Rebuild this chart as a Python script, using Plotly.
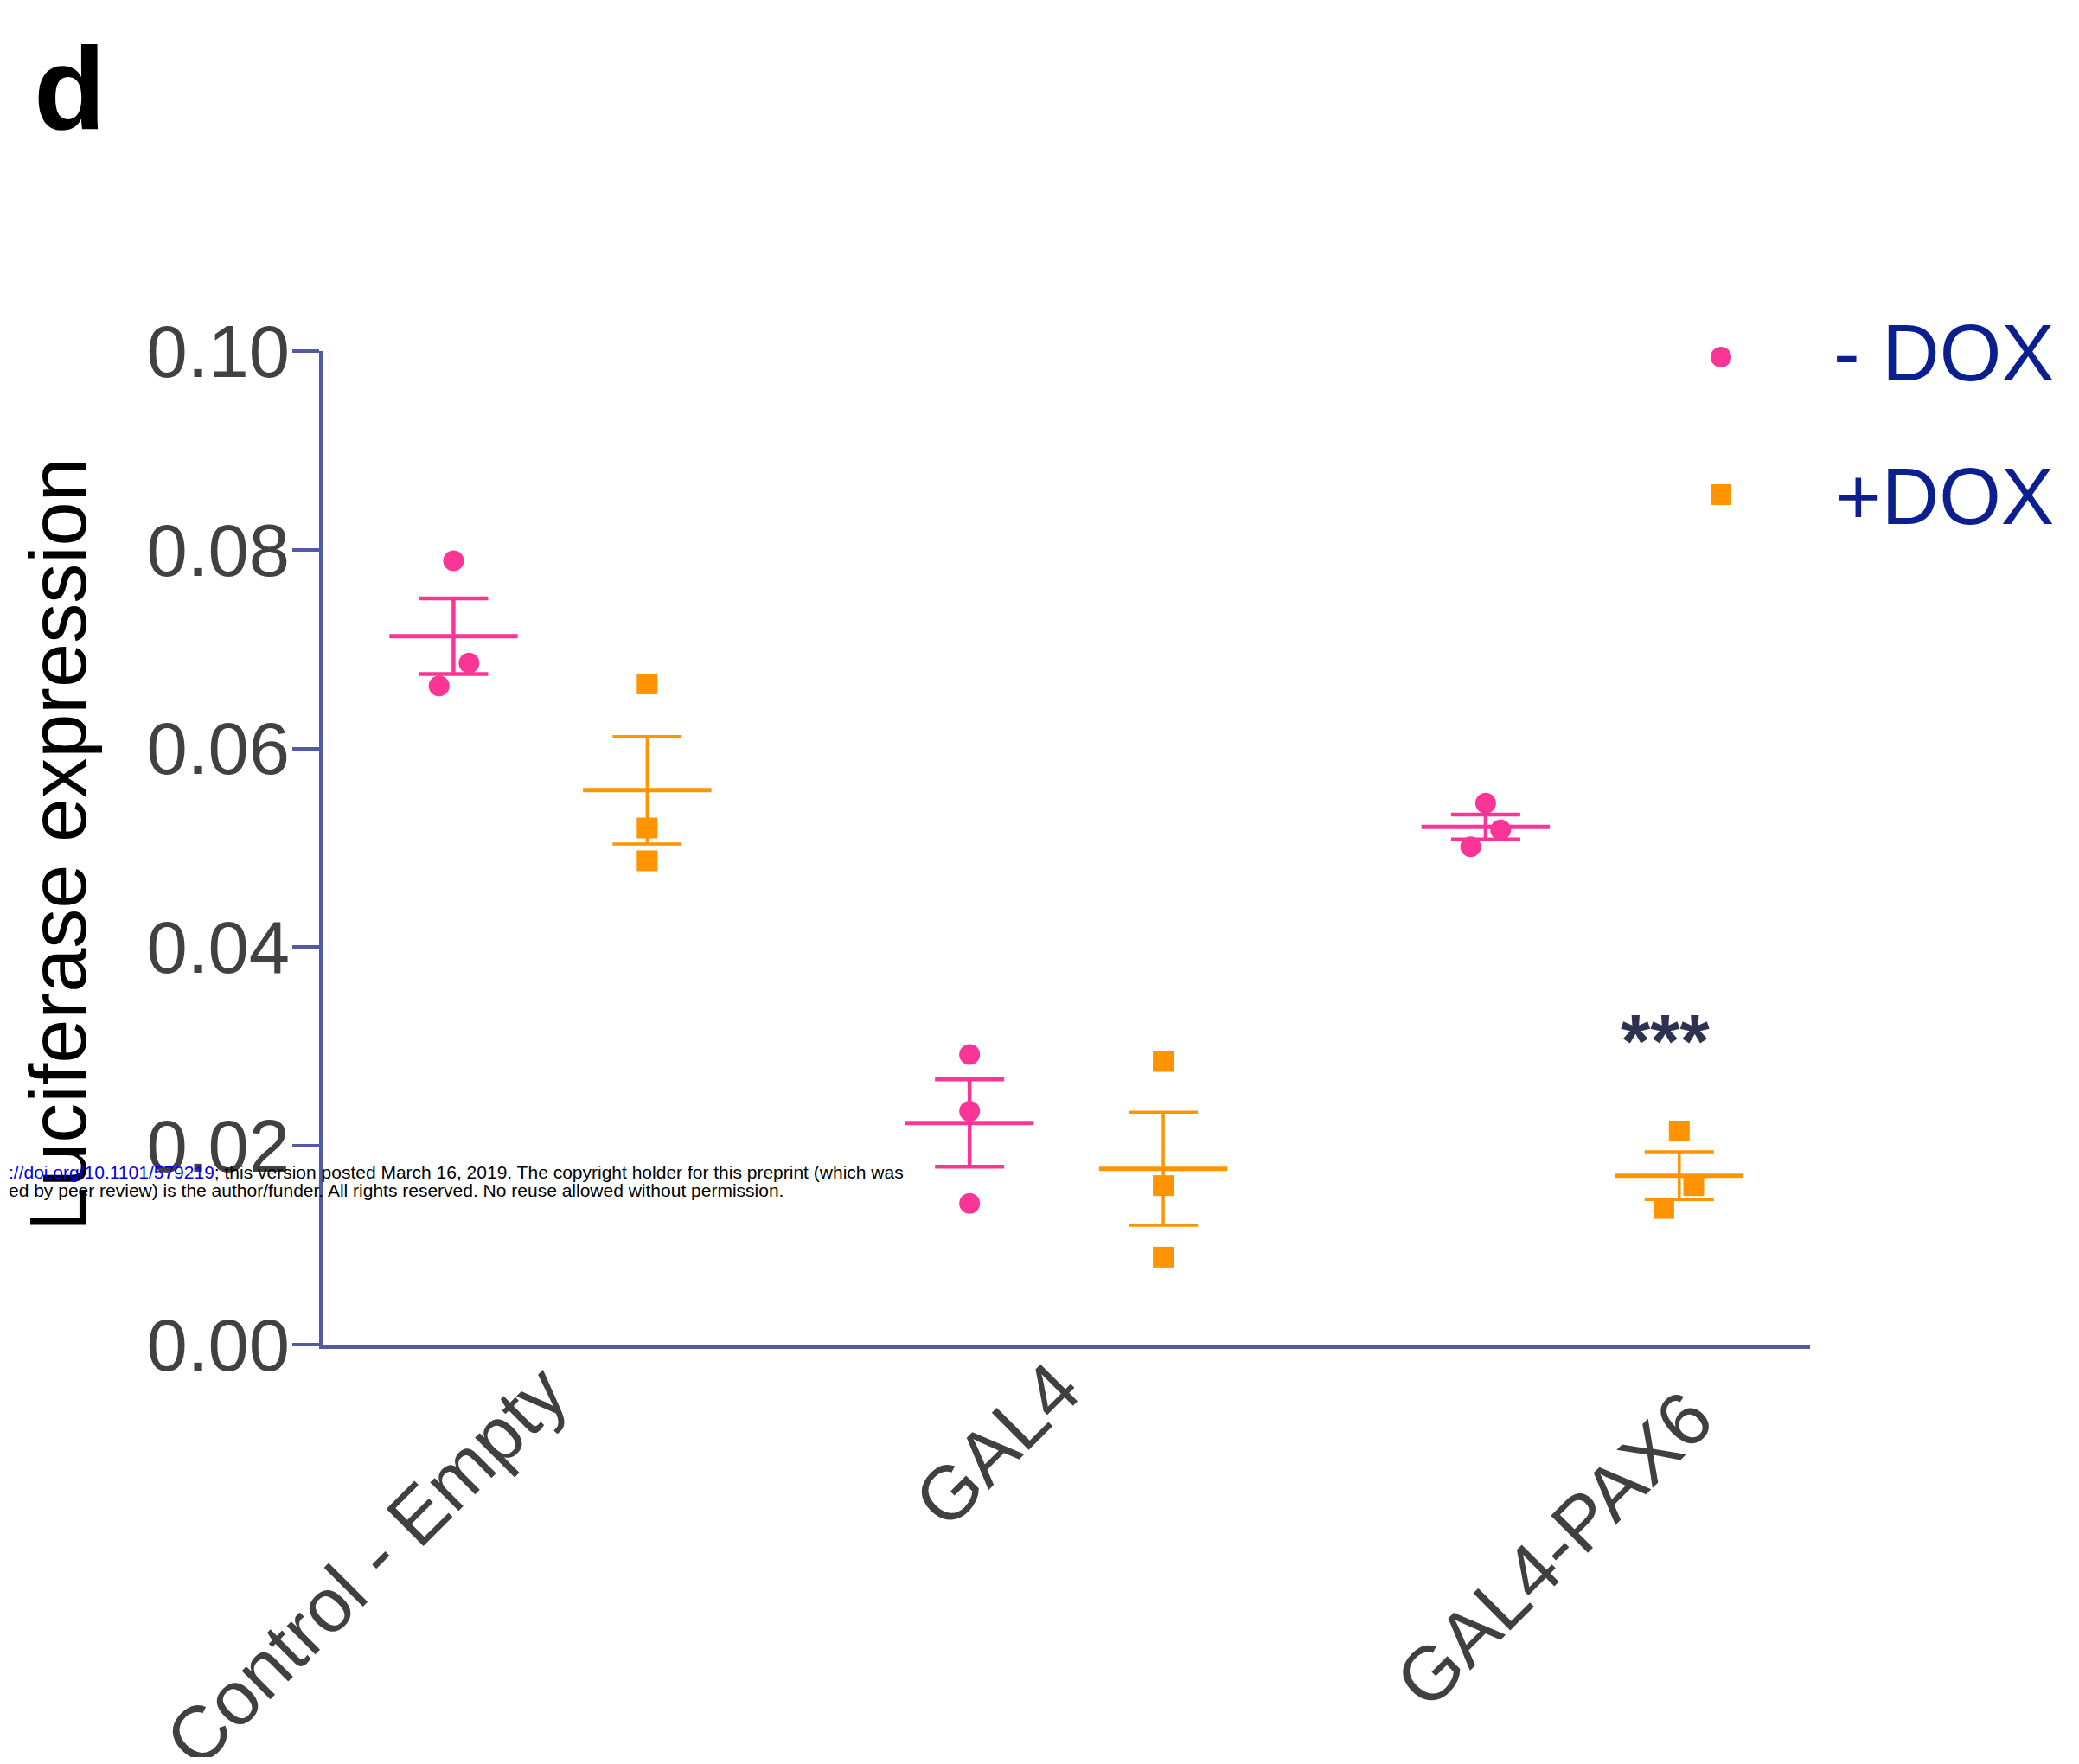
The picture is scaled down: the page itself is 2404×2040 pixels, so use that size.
import plotly.graph_objects as go

# ---------------- data ----------------
categories = ["Control - Empty", "GAL4", "GAL4-PAX6"]
series_names = ["- DOX", "+DOX"]

minus_dox_points = [[0.0789, 0.0686, 0.0663],
                    [0.0292, 0.0235, 0.0142],
                    [0.0545, 0.0518, 0.0501]]
plus_dox_points = [[0.0665, 0.0520, 0.0487],
                   [0.0285, 0.0160, 0.0088],
                   [0.0215, 0.0160, 0.0137]]

minus_dox_mean = [0.0713, 0.0223, 0.0521]
minus_dox_sem = [0.0038, 0.0044, 0.00125]
plus_dox_mean = [0.0558, 0.0177, 0.0170]
plus_dox_sem = [0.0054, 0.0057, 0.0024]

y_tick_vals = [0.00, 0.02, 0.04, 0.06, 0.08, 0.10]
y_tick_text = ["0.00", "0.02", "0.04", "0.06", "0.08", "0.10"]

significance = "***"

# ---------------- layout constants ----------------
PAGE_MARGIN = 8          # default browser body margin
W, H = 2404 - 2 * PAGE_MARGIN, 2040 - 2 * PAGE_MARGIN
PINK = "#fb3596"
ORANGE = "#ff9300"
AXIS = "#525aa6"
FONT = "Arial, Liberation Sans, sans-serif"
GROUP_OFFSET = 0.1876
JITTER_MINUS = [[0, 0.030, -0.028], [0, 0, 0], [0, 0.029, -0.029]]
JITTER_PLUS = [[0, 0, 0], [0, 0, 0], [0, 0.028, -0.030]]


def px(x):
    """page pixel x -> paper fraction"""
    return (x - PAGE_MARGIN) / W


def py(y):
    """page pixel y -> paper fraction"""
    return 1 - (y - PAGE_MARGIN) / H


fig = go.Figure()


def add_series(points, means, sems, jitter, offset, color, symbol, stem_w):
    xs_mean = [i + offset for i in range(len(categories))]
    fig.add_trace(go.Scatter(
        x=xs_mean, y=means, mode="markers",
        marker=dict(symbol="line-ew", size=106, color=color,
                    line=dict(color=color, width=5)),
        error_y=dict(type="data", array=sems, visible=True, color=color,
                     thickness=stem_w, width=40),
        showlegend=False, cliponaxis=False, hoverinfo="skip"))
    xs, ys = [], []
    for i, grp in enumerate(points):
        for j, v in enumerate(grp):
            xs.append(i + offset + jitter[i][j])
            ys.append(v)
    fig.add_trace(go.Scatter(
        x=xs, y=ys, mode="markers",
        marker=dict(symbol=symbol, size=24, color=color, line=dict(width=0)),
        showlegend=False, cliponaxis=False))


add_series(minus_dox_points, minus_dox_mean, minus_dox_sem, JITTER_MINUS,
           -GROUP_OFFSET, PINK, "circle", 4.5)
add_series(plus_dox_points, plus_dox_mean, plus_dox_sem, JITTER_PLUS,
           GROUP_OFFSET, ORANGE, "square", 3.5)

fig.update_layout(
    width=W, height=H,
    margin=dict(l=0, r=0, t=0, b=0),
    paper_bgcolor="white", plot_bgcolor="white",
    showlegend=False,
    font=dict(family=FONT),
    xaxis=dict(domain=[px(374), px(2093)], range=[-0.4397, 2.441],
               showgrid=False, zeroline=False, showticklabels=False,
               ticks="", showline=True, linecolor=AXIS, linewidth=5,
               automargin=False),
    yaxis=dict(domain=[py(1555), py(406)], range=[0, 0.10],
               showgrid=False, zeroline=False,
               tickmode="array", tickvals=y_tick_vals, ticktext=y_tick_text,
               ticks="outside", ticklen=31, tickwidth=4, tickcolor=AXIS,
               tickfont=dict(size=85, color="#414141", family=FONT),
               ticklabelstandoff=-14,
               showline=True, linecolor=AXIS, linewidth=5,
               automargin=False),
)

ann = []
# panel letter
ann.append(dict(text="<b>d</b>", x=px(37), y=py(102), xref="paper", yref="paper",
                xanchor="left", yanchor="middle", showarrow=False,
                font=dict(size=136, color="black", family=FONT)))
# y axis title
ann.append(dict(text="Luciferase expression", x=px(67), y=py(977),
                xref="paper", yref="paper", textangle=-90,
                xanchor="center", yanchor="middle", showarrow=False,
                font=dict(size=92, color="black", family=FONT)))
# x category labels (rotated)
label_pos = [(677, 1558), (1270, 1553), (2002, 1586)]
for cat, (lx, ly) in zip(categories, label_pos):
    ann.append(dict(text=cat, x=px(lx), y=py(ly), xref="paper", yref="paper",
                    textangle=-45, xanchor="right", yanchor="top",
                    showarrow=False,
                    font=dict(size=88, color="#404040", family=FONT)))
# significance stars
ann.append(dict(text="<b>" + significance + "</b>", x=2.16, y=0.0306,
                xref="x", yref="y",
                xanchor="center", yanchor="middle", showarrow=False,
                font=dict(size=88, color="#2f3150", family=FONT)))
# legend
ann.append(dict(text=series_names[0], x=px(2118), y=py(408), xref="paper",
                yref="paper", xanchor="left", yanchor="middle", showarrow=False,
                font=dict(size=92, color="#0c1f8e", family=FONT)))
ann.append(dict(text=series_names[1], x=px(2120), y=py(574), xref="paper",
                yref="paper", xanchor="left", yanchor="middle", showarrow=False,
                font=dict(size=92, color="#0c1f8e", family=FONT)))
# preprint footer (starts at the very left edge of the figure)
ann.append(dict(text="<span style='color:#0000ee'>://doi.org/10.1101/579219</span>; this version posted March 16, 2019. The copyright holder for this preprint (which was",
                x=px(PAGE_MARGIN), y=py(1355), xref="paper", yref="paper",
                xanchor="left", yanchor="middle", showarrow=False,
                font=dict(size=21, color="black", family=FONT)))
ann.append(dict(text="ed by peer review) is the author/funder. All rights reserved. No reuse allowed without permission.",
                x=px(PAGE_MARGIN), y=py(1376), xref="paper", yref="paper",
                xanchor="left", yanchor="middle", showarrow=False,
                font=dict(size=21, color="black", family=FONT)))
fig.update_layout(annotations=ann)

# legend symbols
fig.add_shape(type="circle", xref="paper", yref="paper",
              x0=px(1990 - 12), x1=px(1990 + 12),
              y0=py(413 + 12), y1=py(413 - 12),
              fillcolor=PINK, line=dict(width=0))
fig.add_shape(type="rect", xref="paper", yref="paper",
              x0=px(1990 - 12), x1=px(1990 + 12),
              y0=py(572 + 12), y1=py(572 - 12),
              fillcolor=ORANGE, line=dict(width=0))

fig.write_html("out.html")
